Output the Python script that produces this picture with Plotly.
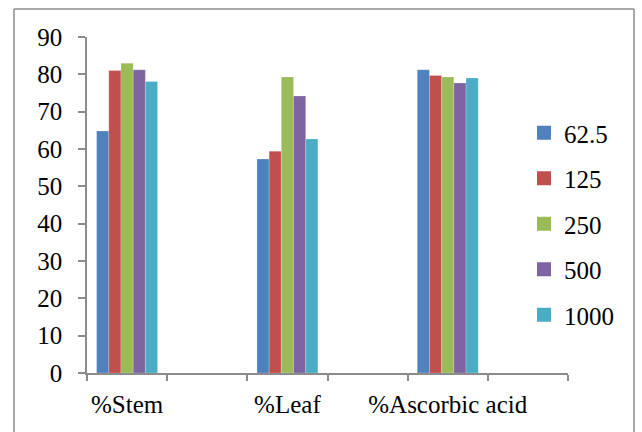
import plotly.graph_objects as go

categories = ["%Stem", "%Leaf", "%Ascorbic acid"]
series_names = ["62.5", "125", "250", "500", "1000"]
values_62_5 = [64.8, 57.3, 81.2]
values_125 = [81.0, 59.4, 79.7]
values_250 = [83.0, 79.3, 79.3]
values_500 = [81.2, 74.2, 77.7]
values_1000 = [78.1, 62.7, 79.0]
y_ticks = [0, 10, 20, 30, 40, 50, 60, 70, 80, 90]

colors = ["#4F81BD", "#C0504D", "#9BBB59", "#8064A2", "#4BACC6"]
all_values = [values_62_5, values_125, values_250, values_500, values_1000]

# category slots: each real category followed by an empty slot
slots = []
for i, c in enumerate(categories):
    slots.append(c)
    slots.append(" " * (i + 1))

FONT = "Liberation Serif"
FS = 25
fig = go.Figure()
for name, vals, col in zip(series_names, all_values, colors):
    ys = []
    for v in vals:
        ys.append(v)
        ys.append(None)
    fig.add_trace(go.Bar(
        x=slots, y=ys, name=name, legendgroup=name, showlegend=False,
        marker=dict(color=col, line=dict(color="rgba(255,255,255,0.35)", width=0.6)),
    ))
# legend entries with square swatches
for name, col in zip(series_names, colors):
    fig.add_trace(go.Scatter(
        x=[None], y=[None], name=name, legendgroup=name, mode="markers",
        marker=dict(symbol="square", size=14, color=col),
    ))

L, R, T, B = 87, 642 - 568, 37, 432 - 373
W, H = 642 - L - R, 432 - T - B

def px(x):
    return (x - L) / W

def py(y):
    return (432 - B - y) / H

frame = dict(color="#8c8c8c", width=1.5)
shapes = [
    dict(type="line", xref="paper", yref="paper", x0=px(14), x1=px(634), y0=py(9), y1=py(9), line=frame),
    dict(type="line", xref="paper", yref="paper", x0=px(14), x1=px(14), y0=py(9), y1=py(445), line=frame),
    dict(type="line", xref="paper", yref="paper", x0=px(634), x1=px(634), y0=py(9), y1=py(445), line=frame),
]

fig.update_layout(
    width=642, height=432,
    margin=dict(l=L, r=R, t=T, b=B, autoexpand=False),
    paper_bgcolor="white", plot_bgcolor="white",
    barmode="group", bargap=0.24, bargroupgap=0,
    font=dict(family=FONT, size=FS, color="black"),
    showlegend=True,
    legend=dict(
        x=px(524), xanchor="left", y=py(224), yanchor="middle",
        traceorder="grouped", tracegroupgap=10,
        font=dict(family=FONT, size=FS, color="black"),
        bgcolor="rgba(0,0,0,0)", itemwidth=30,
    ),
    xaxis=dict(
        type="category", categoryorder="array", categoryarray=slots,
        range=[-0.5, len(slots) - 0.5],
        showline=True, linecolor="#8c8c8c", linewidth=1.5,
        ticks="outside", tickson="boundaries", ticklen=6, tickcolor="#8c8c8c", tickwidth=1.5,
        showgrid=False, zeroline=False, ticklabelstandoff=8, tickangle=0,
        tickfont=dict(family=FONT, size=FS, color="black"),
    ),
    yaxis=dict(
        range=[0, 90], tickvals=y_ticks,
        showline=True, linecolor="#8c8c8c", linewidth=1.5,
        ticks="outside", ticklen=7, tickcolor="#8c8c8c", tickwidth=1.5,
        showgrid=False, zeroline=False, ticklabelstandoff=11,
        tickfont=dict(family=FONT, size=FS, color="black"),
    ),
    shapes=shapes,
)

fig.write_html(
    "out.html",
    config={"displayModeBar": False},
    post_script="document.body.style.margin='0';document.body.style.overflow='hidden';",
)
